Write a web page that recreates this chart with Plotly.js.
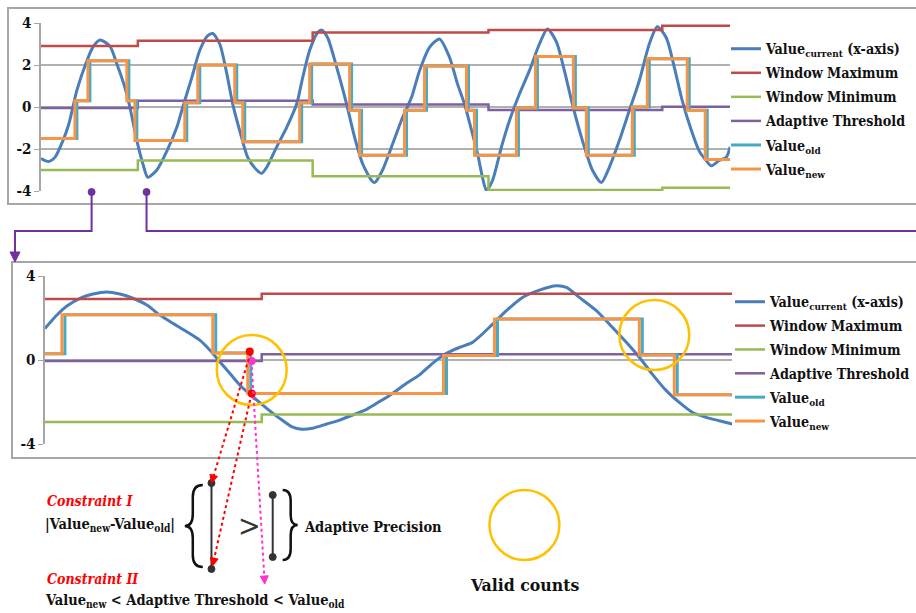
<!DOCTYPE html>
<html>
<head>
<meta charset="utf-8">
<script src="https://cdn.plot.ly/plotly-3.0.1.min.js"></script>
<style>html,body{margin:0;padding:0;background:#fff;}#chart{width:916px;height:613px;}</style>
</head>
<body>
<div id="chart"></div>
<script>
// ---------- DATA ----------
// legend names
const seriesNames = ['Value<sub>current</sub> (x-axis)', 'Window Maximum', 'Window Minimum', 'Adaptive Threshold', 'Value<sub>old</sub>', 'Value<sub>new</sub>'];
const tickVals = [-4, -2, 0, 2, 4];
const tickText = ['-4', '-2', '0', '2', '4'];
const tickValsZoom = [-4, 0, 4];
const tickTextZoom = ['-4', '0', '4'];

// Top chart: sample index vs value
const topCurX = [0,4,8,14,22,28,32,36,46,52,59,69,76,84,89,96,102,107,116,126,136,142,151,159,167,172,179,186,192,199,207,216,221,226,236,246,256,262,269,277,281,287,296,306,314,322,331,334,342,352,362,371,379,389,399,409,417,424,431,437,442,446,452,461,469,479,489,499,507,516,524,532,539,546,552,561,569,579,589,599,609,617,626,634,642,651,659,666,671,679,686,690];
const topCurY = [-2.45,-2.55,-2.6,-2.4,-1.6,-0.8,0.0,0.8,2.2,2.85,3.19,2.9,2.05,0.94,0.0,-1.6,-2.7,-3.35,-3.0,-2.1,-0.97,0.0,1.4,2.7,3.4,3.5,3.0,1.6,0.14,-1.13,-2.4,-3.0,-3.16,-2.87,-1.9,-0.97,0.14,1.4,2.7,3.55,3.67,3.3,1.9,0.14,-1.44,-2.7,-3.5,-3.6,-3.0,-1.76,-0.5,0.46,1.73,2.84,3.24,2.37,1.1,0.14,-1.1,-2.2,-3.35,-3.98,-3.5,-1.9,-0.65,0.62,1.73,3.0,3.72,3.1,1.73,0.14,-1.1,-2.2,-3.0,-3.6,-2.87,-1.6,-0.17,1.25,3.0,3.82,3.3,1.9,0.3,-1.1,-2.1,-2.55,-2.8,-2.55,-2.4,-1.9];
const topWinX = [0,97,272,448,622,690];
const topMaxY = [2.9,3.15,3.55,3.67,3.87,3.87];
const topMinY = [-3.0,-2.55,-3.3,-3.95,-3.85,-3.85];
const topThrY = [-0.05,0.3,0.12,-0.14,0.01,0.01];
const topNewX = [0,34,47,86,94,144,157,194,202,259,269,309,319,364,384,426,434,476,495,533,546,592,607,647,665,690];
const topOldX = [0,36,49,88,96,146,159,196,204,261,271,311,321,366,386,428,436,478,497,535,548,594,609,649,667,690];
const topStepY = [-1.5,0.3,2.2,0.3,-1.6,0.2,2.0,0.2,-1.65,0.2,2.05,-0.15,-2.3,-0.15,1.95,-0.15,-2.3,-0.05,2.4,-0.05,-2.3,0.0,2.3,-0.15,-2.5,-2.5];

// Bottom (zoomed) chart
const zCurX = [0,12,22,35,48,62,75,88,102,115,128,142,155,165,175,185,195,208,222,235,248,257,268,282,295,308,322,335,348,362,375,388,402,415,428,445,462,478,495,512,522,535,552,568,582,595,608,622,635,648,662,675,688];
const zCurY = [1.5,2.14,2.57,2.94,3.14,3.24,3.14,2.94,2.62,2.14,1.75,1.35,0.95,0.48,-0.08,-0.63,-1.19,-1.75,-2.3,-2.78,-3.2,-3.3,-3.25,-3.05,-2.86,-2.62,-2.35,-1.98,-1.59,-1.11,-0.71,-0.16,0.32,0.6,0.84,1.56,2.35,2.98,3.33,3.54,3.46,2.98,2.35,1.56,0.84,0.13,-0.67,-1.46,-2.02,-2.49,-2.73,-2.89,-3.05];
const zWinX = [0,217,688];
const zMaxY = [2.9,3.15,3.15];
const zMinY = [-2.95,-2.6,-2.6];
const zThrY = [-0.05,0.27,0.27];
const zNewX = [0,17,168,203,399,450,595,630,688];
const zOldX = [0,20,171,206,402,453,598,633,688];
const zStepY = [0.3,2.15,0.33,-1.6,0.22,1.95,0.24,-1.65,-1.65];
// highlighted points at the counted transition
const markX = [205, 207, 207];
const markY = [0.4, -1.6, -0.05];
const markColor = ['#ff0000', '#ff0000', '#ff33cc'];

// ---------- STYLE ----------
const colors = ['#4a7ebb', '#be4b48', '#98b954', '#7d60a0', '#46aac5', '#f69547'];
const widths = [3, 2.5, 2.5, 2.5, 3, 3];
const W = 916, H = 613;
const px = x => x / W;
const py = y => 1 - y / H;
const serif = '"DejaVu Serif Condensed", "DejaVu Serif", serif';

function series(xs, ys, i, xa, ya, leg, shape) {
  const ln = {color: colors[i], width: widths[i], shape: shape || 'spline'};
  if (!shape) ln.smoothing = 0.7;
  return {
    x: xs, y: ys, type: 'scatter', mode: 'lines', name: seriesNames[i],
    xaxis: xa, yaxis: ya, legend: leg, legendgroup: leg + '_' + i, line: ln, hoverinfo: 'skip'
  };
}

const traces = [
  series(topCurX, topCurY, 0, 'x', 'y', 'legend'),
  series(topWinX, topMaxY, 1, 'x', 'y', 'legend', 'hv'),
  series(topWinX, topMinY, 2, 'x', 'y', 'legend', 'hv'),
  series(topWinX, topThrY, 3, 'x', 'y', 'legend', 'hv'),
  series(topOldX, topStepY, 4, 'x', 'y', 'legend', 'hv'),
  series(topNewX, topStepY, 5, 'x', 'y', 'legend', 'hv'),
  series(zCurX, zCurY, 0, 'x2', 'y2', 'legend2'),
  series(zWinX, zMaxY, 1, 'x2', 'y2', 'legend2', 'hv'),
  series(zWinX, zMinY, 2, 'x2', 'y2', 'legend2', 'hv'),
  series(zWinX, zThrY, 3, 'x2', 'y2', 'legend2', 'hv'),
  series(zOldX, zStepY, 4, 'x2', 'y2', 'legend2', 'hv'),
  series(zNewX, zStepY, 5, 'x2', 'y2', 'legend2', 'hv'),
  {x: markX, y: markY, xaxis: 'x2', yaxis: 'y2', type: 'scatter', mode: 'markers',
   marker: {color: markColor, size: 8}, showlegend: false, cliponaxis: false, hoverinfo: 'skip'}
];

// ---------- DECORATION SHAPES (pixel -> paper) ----------
const shapes = [];
function rect(x0, y0, x1, y1, col, w) {
  shapes.push({type: 'rect', xref: 'paper', yref: 'paper', x0: px(x0), x1: px(x1), y0: py(y0), y1: py(y1),
    line: {color: col, width: w}, fillcolor: 'rgba(0,0,0,0)', layer: 'below'});
}
function pathPx(pts, col, w, dash, fill) {
  const d = pts.map((p, i) => (p[0] === 'Q' ? 'Q' + px(p[1]) + ',' + py(p[2]) + ' ' + px(p[3]) + ',' + py(p[4])
      : (i === 0 ? 'M' : 'L') + px(p[0]) + ',' + py(p[1]))).join(' ') + (fill ? ' Z' : '');
  shapes.push({type: 'path', xref: 'paper', yref: 'paper', path: d,
    line: {color: col, width: w, dash: dash || 'solid'}, fillcolor: fill || 'rgba(0,0,0,0)', layer: 'above'});
}
function circ(cx, cy, r, col, w, fill) {
  shapes.push({type: 'circle', xref: 'paper', yref: 'paper', x0: px(cx - r), x1: px(cx + r), y0: py(cy + r), y1: py(cy - r),
    line: {color: col, width: w}, fillcolor: fill || 'rgba(0,0,0,0)', layer: 'above'});
}
function arrow(x0, y0, x1, y1, col, dash) {
  const dx = x1 - x0, dy = y1 - y0, L = Math.hypot(dx, dy), ux = dx / L, uy = dy / L;
  const bx = x1 - ux * 8, by = y1 - uy * 8;
  pathPx([[x0, y0], [bx, by]], col, 2, dash);
  pathPx([[x1, y1], [bx - uy * 4, by + ux * 4], [bx + uy * 4, by - ux * 4]], col, 1, 'solid', col);
}

// frames
rect(8, 8, 930, 204, '#a6a6a6', 2);
rect(12, 262, 930, 458, '#a6a6a6', 2);
// purple connectors
const conn = '#7030a0';
pathPx([[91.7, 192], [91.7, 231], [15, 231], [15, 254]], conn, 2);
pathPx([[15, 262], [10, 252], [20, 252]], conn, 1, 'solid', conn);
pathPx([[146.7, 192], [146.7, 231], [920, 231]], conn, 2);
circ(91.7, 192, 3.5, conn, 1, conn);
circ(146.7, 192, 3.5, conn, 1, conn);
// yellow circles
const gold = '#ffc000';
circ(252, 370, 35, gold, 2.5);
circ(655, 335, 35, gold, 2.5);
circ(525, 525, 35, gold, 2.5);
// braces and interval bars
const dk = '#333333';
pathPx([[203, 485], ['Q', 193, 485, 193, 497], [193, 514], ['Q', 193, 526, 185, 526], ['Q', 193, 526, 193, 538], [193, 555], ['Q', 193, 567, 203, 567]], '#111', 2.5);
pathPx([[283, 490], ['Q', 291, 490, 291, 501], [291, 515], ['Q', 291, 525, 298, 525], ['Q', 291, 525, 291, 535], [291, 549], ['Q', 291, 560, 283, 560]], '#111', 2.5);
pathPx([[211.7, 483], [211.7, 569]], dk, 2);
circ(211.7, 483, 3.5, dk, 1, dk);
circ(211.7, 569, 3.5, dk, 1, dk);
pathPx([[273, 495], [273, 557]], dk, 2);
circ(273, 495, 3.5, dk, 1, dk);
circ(273, 557, 3.5, dk, 1, dk);
// dotted guide arrows
arrow(250.7, 353, 211.7, 483, '#ff0000', 'dot');
arrow(251.7, 394, 212.7, 566, '#ff0000', 'dot');
arrow(251.7, 361, 265, 584, '#ff33cc', 'dot');

// ---------- TEXT ----------
function txt(x, y, text, size, opts) {
  return Object.assign({xref: 'paper', yref: 'paper', x: px(x), y: py(y), text: text, showarrow: false,
    xanchor: 'left', yanchor: 'middle', font: {family: serif, size: size, color: '#111'}}, opts || {});
}
const annotations = [
  txt(45, 501, '<b><i>Constraint I</i></b>', 14, {font: {family: serif, size: 14, color: '#ff0000'}}),
  txt(43, 524, '<b>|Value<sub>new</sub>-Value<sub>old</sub>|</b>', 14.5),
  txt(236, 525, '&gt;', 30, {font: {family: serif, size: 30, color: '#333'}}),
  txt(302, 526, '<b>Adaptive Precision</b>', 14.5),
  txt(45, 579, '<b><i>Constraint II</i></b>', 14, {font: {family: serif, size: 14, color: '#ff0000'}}),
  txt(43, 600, '<b>Value<sub>new</sub> &lt; Adaptive Threshold &lt; Value<sub>old</sub></b>', 14.5),
  txt(526, 585, '<b>Valid counts</b>', 17.5, {xanchor: 'center'})
];

function yax(dom, vals, text) {
  return {domain: dom, range: [-4, 4], tickvals: vals, ticktext: text, showgrid: true, gridcolor: '#b0b0b0', gridwidth: 1.5,
    zeroline: false, showline: true, linecolor: '#a6a6a6', linewidth: 1.5, ticks: 'outside', ticklen: 5, tickcolor: '#a6a6a6',
    tickfont: {family: serif, size: 15, color: '#111', weight: 'bold'}, fixedrange: true};
}
function xax(dom, rng, anchor) {
  return {domain: dom, range: rng, anchor: anchor, showgrid: false, zeroline: false, showline: false, showticklabels: false, ticks: '', fixedrange: true};
}
const legFont = {family: serif, size: 14.2, color: '#111', weight: 'bold'};
const layout = {
  width: W, height: H, margin: {l: 0, r: 0, t: 0, b: 0}, paper_bgcolor: '#fff', plot_bgcolor: 'rgba(0,0,0,0)',
  font: {family: serif},
  showlegend: true,
  xaxis: xax([px(41), px(731)], [0, 690], 'y'),
  yaxis: yax([py(191), py(23)], tickVals, tickText),
  xaxis2: xax([px(45), px(733)], [0, 688], 'y2'),
  yaxis2: Object.assign(yax([py(444), py(276)], tickValsZoom, tickTextZoom), {anchor: 'x2'}),
  legend: {x: px(726), y: py(33), xanchor: 'left', yanchor: 'top', font: legFont, bgcolor: 'rgba(0,0,0,0)', itemwidth: 30,
           traceorder: 'grouped', tracegroupgap: 2.6},
  legend2: {x: px(731), y: py(286), xanchor: 'left', yanchor: 'top', font: legFont, bgcolor: 'rgba(0,0,0,0)', itemwidth: 30,
            traceorder: 'grouped', tracegroupgap: 2.4},
  shapes: shapes, annotations: annotations
};
Plotly.newPlot('chart', traces, layout, {staticPlot: true});
</script>
</body>
</html>
